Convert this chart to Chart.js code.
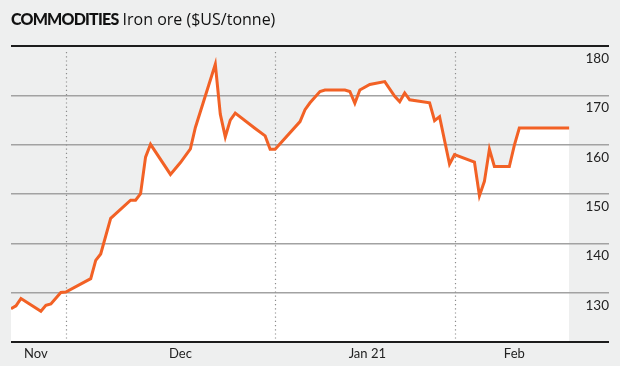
<!DOCTYPE html>
<html>
<head>
<meta charset="utf-8">
<script src="https://cdn.jsdelivr.net/npm/chart.js@4"></script>
<style>
html,body{margin:0;padding:0;background:#eeefef;}
#wrap{position:relative;width:620px;height:366px;}
#title{position:absolute;left:11px;top:8px;font-family:"Open Sans",sans-serif;font-size:16px;color:#111;white-space:nowrap;}
#title b{font-family:Lato,sans-serif;font-weight:900;font-size:16px;letter-spacing:-0.8px;}
canvas{position:absolute;left:0;top:0;}
</style>
</head>
<body>
<div id="wrap">
  <canvas id="chart" width="620" height="366"></canvas>
  <div id="title"><b>COMMODITIES</b> Iron ore ($US/tonne)</div>
</div>
<script>
// day index and price in $US/tonne
const days = [0,1,2,6,7,8,10,11,16,17,18,20,24,25,26,27,28,32,34,36,37,41,42,43,44,45,49,51,52,53,
  58,59,60,62,63,67,68,69,70,72,75,77,78,79,80,84,85,86,88,89,93,94,95,96,97,100,101,102,112];
const prices = [126.8,127.4,128.9,126.3,127.5,127.8,130.1,130.2,132.9,136.6,137.9,145.1,148.8,148.8,150.1,157.5,160.1,154.0,156.4,159.2,163.5,176.3,166.2,161.6,165.0,166.4,163.3,161.8,159.1,159.1,
  164.7,167.1,168.5,170.8,171.1,171.1,170.8,168.4,171.1,172.2,172.8,169.8,168.7,170.5,169.1,168.5,164.9,165.7,156.1,158.0,156.5,149.7,152.6,159.1,155.6,155.6,159.9,163.4,163.4];

const monthTicks = [5, 34, 71.5, 101];
const monthLabels = ['Nov', 'Dec', 'Jan 21', 'Feb'];
const dividerDays = [11, 53, 89];
const yMin = 120, yMax = 180, yStep = 10;

const points = days.map((d, i) => ({x: d, y: prices[i]}));

const dividers = {
  id: 'dividers',
  beforeDatasetsDraw(chart) {
    const ctx = chart.ctx, x = chart.scales.x, area = chart.chartArea;
    ctx.save();
    ctx.strokeStyle = '#8c8c8c';
    ctx.lineWidth = 1.2;
    ctx.setLineDash([1.2, 3]);
    dividerDays.forEach(d => {
      const px = Math.round(x.getPixelForValue(d)) + 0.5;
      ctx.beginPath();
      ctx.moveTo(px, area.top + 6);
      ctx.lineTo(px, area.bottom - 4);
      ctx.stroke();
    });
    ctx.restore();
  }
};

new Chart(document.getElementById('chart'), {
  type: 'line',
  data: {
    datasets: [{
      data: points,
      borderColor: '#f26125',
      borderWidth: 3,
      backgroundColor: '#ffffff',
      fill: 'start',
      pointRadius: 0,
      tension: 0
    }]
  },
  options: {
    responsive: false,
    animation: false,
    layout: {padding: {top: 46, right: 11, bottom: 0, left: 11}},
    plugins: {
      legend: {display: false},
      tooltip: {enabled: false},
      filler: {drawTime: 'beforeDraw'}
    },
    scales: {
      x: {
        type: 'linear',
        min: 0,
        max: 120,
        afterBuildTicks: s => { s.ticks = monthTicks.map(v => ({value: v})); },
        grid: {display: false, drawTicks: false},
        border: {display: false},
        ticks: {
          autoSkip: false,
          maxRotation: 0,
          padding: 4,
          color: '#222',
          font: {family: 'Lato', size: 13},
          callback: (v, i) => monthLabels[i]
        }
      },
      y: {
        position: 'right',
        min: yMin,
        max: yMax,
        border: {display: false},
        grid: {
          drawTicks: false,
          color: c => (c.tick.value === yMax || c.tick.value === yMin) ? '#1c1c1c' : '#a2a2a2',
          lineWidth: c => (c.tick.value === yMax || c.tick.value === yMin) ? 2 : 1.5
        },
        ticks: {
          stepSize: yStep,
          mirror: true,
          padding: 0,
          labelOffset: 12.5,
          color: '#222',
          font: {family: 'Lato', size: 13.5},
          callback: v => v === yMin ? '' : v
        }
      }
    }
  },
  plugins: [dividers]
});
</script>
</body>
</html>
